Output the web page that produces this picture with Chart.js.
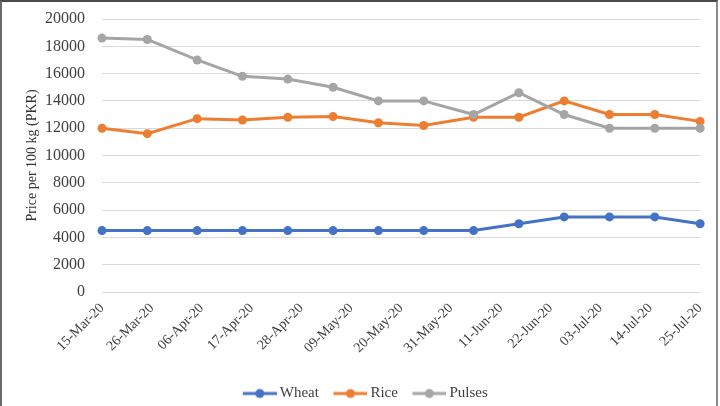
<!DOCTYPE html>
<html>
<head>
<meta charset="utf-8">
<script src="https://cdn.jsdelivr.net/npm/chart.js@4.4.0/dist/chart.umd.min.js"></script>
<style>
  html, body { margin: 0; padding: 0; background: #fff; overflow: hidden; }
  #wrap { position: relative; width: 720px; height: 406px; overflow: hidden; }
  #frame {
    position: absolute; left: 0; top: 0; width: 718px; height: 420px; box-sizing: border-box;
    border-top: 2px solid #4a4a4a; border-left: 2px solid #6a6a6a; border-right: 2px solid #8a8a8a;
  }
  #box { position: absolute; left: 0; top: 0; width: 720px; height: 411px; }
</style>
</head>
<body>
<div id="wrap">
  <div id="frame"></div>
  <div id="box"><canvas id="priceChart"></canvas></div>
</div>
<script>
// tick labels on the date axis (every 11 days)
const tickLabels = ['15-Mar-20', '26-Mar-20', '06-Apr-20', '17-Apr-20', '28-Apr-20', '09-May-20', '20-May-20',
    '31-May-20', '11-Jun-20', '22-Jun-20', '03-Jul-20', '14-Jul-20', '25-Jul-20'];
const tickStepDays = 11;

// observation dates
const pointDates = ['2020-03-15', '2020-03-25', '2020-04-05', '2020-04-15', '2020-04-25', '2020-05-05', '2020-05-15',
    '2020-05-25', '2020-06-05', '2020-06-15', '2020-06-25', '2020-07-05', '2020-07-15', '2020-07-25'];

// price per 100 kg (PKR)
const wheat = [4500, 4500, 4500, 4500, 4500, 4500, 4500, 4500, 4500, 5000, 5500, 5500, 5500, 5000];
const rice = [12000, 11600, 12700, 12600, 12800, 12850, 12400, 12200, 12800, 12800, 14000, 13000, 13000, 12500];
const pulses = [18600, 18500, 17000, 15800, 15600, 15000, 14000, 14000, 13000, 14600, 13000, 12000, 12000, 12000];

const yMax = 20000;
const yStep = 2000;

const dayMs = 86400000;
const startMs = Date.parse(pointDates[0]);
const days = pointDates.map(d => (Date.parse(d) - startMs) / dayMs);

function toPoints(values) {
    return values.map((v, i) => ({ x: days[i], y: v }));
}

// legend icon: line with a dot in the middle
function legendIcon(color) {
    const c = document.createElement('canvas');
    c.width = 49;
    c.height = 12;
    const g = c.getContext('2d');
    g.strokeStyle = color;
    g.lineWidth = 3;
    g.beginPath();
    g.moveTo(15, 6);
    g.lineTo(49, 6);
    g.stroke();
    g.fillStyle = color;
    g.beginPath();
    g.arc(32, 6, 4.5, 0, Math.PI * 2);
    g.fill();
    return c;
}

const serif = '"Liberation Serif", "Times New Roman", serif';
const colors = ['#4472C4', '#ED7D31', '#A5A5A5'];
const icons = colors.map(legendIcon);

function series(label, values, color, order) {
    return {
        label: label,
        data: toPoints(values),
        borderColor: color,
        backgroundColor: color,
        borderWidth: 3,
        pointRadius: 4.5,
        pointBorderWidth: 0,
        pointBackgroundColor: color,
        pointStyle: 'circle',
        tension: 0,
        clip: false,
        order: order
    };
}

const ctx = document.getElementById('priceChart').getContext('2d');
const chart = new Chart(ctx, {
    type: 'line',
    data: {
        datasets: [
            series('Wheat', wheat, colors[0], 3),
            series('Rice', rice, colors[1], 2),
            series('Pulses', pulses, colors[2], 1)
        ]
    },
    options: {
        responsive: true,
        maintainAspectRatio: false,
        devicePixelRatio: 1,
        animation: false,
        layout: { padding: { left: 7, right: 7, top: 19, bottom: 0 } },
        plugins: {
            tooltip: { enabled: false },
            legend: {
                position: 'bottom',
                labels: {
                    usePointStyle: true,
                    pointStyleWidth: 40,
                    padding: 4,
                    color: '#404040',
                    font: { family: serif, size: 15 },
                    generateLabels: c => {
                        const items = Chart.defaults.plugins.legend.labels.generateLabels(c);
                        items.forEach(it => { it.pointStyle = icons[it.datasetIndex]; });
                        return items;
                    },
                    sort: (a, b) => a.datasetIndex - b.datasetIndex
                }
            }
        },
        scales: {
            x: {
                type: 'linear',
                min: 0,
                max: (tickLabels.length - 1) * tickStepDays,
                grid: { display: false, drawTicks: false },
                border: { display: false },
                afterFit: scale => { scale.height = 90; },
                ticks: {
                    stepSize: tickStepDays,
                    autoSkip: false,
                    minRotation: 45,
                    maxRotation: 45,
                    padding: 8,
                    color: '#404040',
                    font: { family: serif, size: 14 },
                    callback: (value, index) => tickLabels[index]
                }
            },
            y: {
                min: 0,
                max: yMax,
                grid: { color: '#d9d9d9', lineWidth: 1, drawTicks: true, tickLength: 17, tickColor: 'rgba(0,0,0,0)' },
                border: { display: false },
                afterFit: scale => { scale.width = 95; },
                title: {
                    display: true,
                    text: 'Price per 100 kg (PKR)',
                    color: '#333333',
                    font: { family: serif, size: 14 },
                    padding: { top: 17, bottom: 0 }
                },
                ticks: {
                    stepSize: yStep,
                    padding: 0,
                    color: '#404040',
                    font: { family: serif, size: 16 },
                    callback: value => String(value)
                }
            }
        }
    }
});
</script>
</body>
</html>
